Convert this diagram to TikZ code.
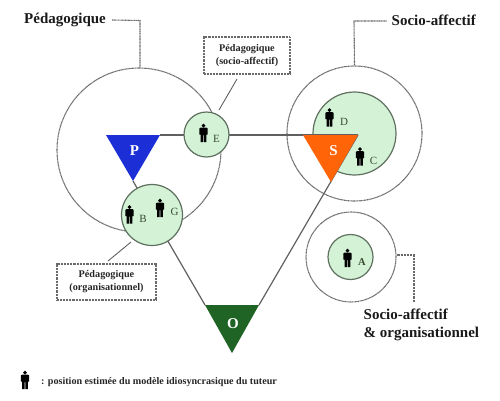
\documentclass[tikz,border=0pt]{standalone}
\usepackage{fontspec}
\setmainfont{Liberation Serif}
\definecolor{cfill}{HTML}{D3F2D6}
\definecolor{cline}{HTML}{5F705F}
\definecolor{pblue}{HTML}{1C2FD6}
\definecolor{sorange}{HTML}{FF6508}
\definecolor{ogreen}{HTML}{1F6425}
\definecolor{link}{HTML}{606060}
\definecolor{dots}{HTML}{6A6A6A}
\definecolor{ltxt}{HTML}{3A4A30}
\tikzset{
  dotline/.style={draw=dots,line width=1.1pt,dash pattern=on 1pt off .45pt},
  linkline/.style={draw=link,line width=1.2pt},
  halo/.style={circle,dotline,inner sep=0pt,minimum size=#1},
  zone/.style={circle,draw=cline,line width=1.2pt,fill=cfill,inner sep=0pt,minimum size=#1},
  title/.style={font=\bfseries\fontsize{15}{18}\selectfont,align=left,inner sep=0pt,text=black!90},
  boxlabel/.style={rectangle,dotline,font=\bfseries\fontsize{10.2}{13}\selectfont,align=center,inner sep=0pt,text=black!85},
  person letter/.style={font=\fontsize{11}{12}\selectfont,text=ltxt,inner sep=0pt},
  tri letter/.style={font=\bfseries\fontsize{15}{18}\selectfont,text=white,inner sep=0pt},
  person/.pic={
    \fill[black] (0,-7.4) circle (1.9);
    \fill[black] (-4.2,-4.4) .. controls (-4.2,-5.3) and (-3.6,-5.4) .. (-3,-5.4) -- (3,-5.4)
      .. controls (3.6,-5.4) and (4.2,-5.3) .. (4.2,-4.4) -- (4.2,1.6) -- (3,1.6) -- (2.8,9.2) -- (.4,9.2) -- (.4,2)
      -- (-.4,2) -- (-.4,9.2) -- (-2.8,9.2) -- (-3,1.6) -- (-4.2,1.6) -- cycle;
  }
}
\begin{document}
\begin{tikzpicture}[x=1pt,y=-1pt]
\useasboundingbox (0,0) rectangle (500,400);
% halos
\node[halo=164pt] (hP) at (139,150) {};
\node[halo=135pt] (hS) at (354.5,133.5) {};
\node[halo=90pt] (hA) at (351,257) {};
% triangle corners
\coordinate (Pl) at (106,135); \coordinate (Pr) at (160,135); \coordinate (Pb) at (133,181);
\coordinate (Sl) at (303,135); \coordinate (Sr) at (358,135); \coordinate (Sb) at (331,182);
\coordinate (Ol) at (205,305); \coordinate (Or) at (259,305); \coordinate (Ob) at (232,353);
% zones
\node[zone=83pt] (zS) at (354.5,133.5) {};
\draw[linkline] (Pr) -- (Sr);
\draw[linkline] (Pb) -- (Ol);
\draw[linkline] (Sr) -- (Or);
\node[zone=45pt] (zE) at (206.5,134.5) {};
\node[zone=61pt] (zB) at (152,215) {};
\node[zone=45pt] (zA) at (350.5,257) {};
% triangles
\fill[pblue] (Pl) -- (Pr) -- (Pb) -- cycle;
\fill[sorange] (Sl) -- (Sr) -- (Sb) -- cycle;
\fill[ogreen] (Ol) -- (Or) -- (Ob) -- cycle;
\node[tri letter] (lP) at (134.5,151) {P};
\node[tri letter] (lS) at (333.5,151) {S};
\node[tri letter] (lO) at (233,323.5) {O};
% people
\pic at (203.5,133) {person};
\pic at (329.5,117.5) {person};
\pic at (360,156.5) {person};
\pic at (129.5,214.5) {person};
\pic at (160,208) {person};
\pic at (347.5,258) {person};
\pic at (25,380) {person};
\node[person letter] (lE) at (216.5,139) {E};
\node[person letter] (lD) at (344,121.5) {D};
\node[person letter] (lC) at (373.5,161) {C};
\node[person letter] (lB) at (143,219) {B};
\node[person letter] (lG) at (174.5,212) {G};
\node[person letter,font=\bfseries\fontsize{10.5}{12}\selectfont] (lA) at (362,262.5) {A};
% titles
\node[title,anchor=west] (tP) at (24,19.5) {Pédagogique};
\node[title,anchor=west] (tS) at (391.5,20.5) {Socio-affectif};
\node[title,anchor=north west] (tA) at (363.5,308.5) {Socio-affectif\\\& organisationnel};
% dotted leaders
\coordinate (jP) at (140,20.5); \coordinate (jS) at (354,21); \coordinate (jA) at (414,255); \coordinate (eA) at (414,301.5);
\draw[dotline] (tP.east) ++(6,0.5) -- (jP) -- (hP.north -| jP);
\draw[dotline] (tS.west) ++(-5,0.5) -- (jS) -- (hS.north);
\draw[dotline] (hA.east |- jA) -- (jA) -- (eA);
% boxes
\node[boxlabel,minimum width=86pt,minimum height=37pt] (bE) at (247,55.5) {Pédagogique\\(socio-affectif)};
\node[boxlabel,minimum width=99pt,minimum height=36pt] (bB) at (106.5,282) {Pédagogique\\(organisationnel)};
\coordinate (eEa) at (237,79); \coordinate (eEb) at (219,110);
\coordinate (eBa) at (108,261); \coordinate (eBb) at (131,242);
\draw[linkline,line width=.9pt] (eEa) -- (eEb);
\draw[linkline,line width=.9pt] (eBa) -- (eBb);
% legend
\node[anchor=west,inner sep=0pt,font=\bfseries\fontsize{10.1}{12}\selectfont,text=black!85] (leg) at (41,382.5) {: position estimée du modèle idiosyncrasique du tuteur};
\end{tikzpicture}
\end{document}
